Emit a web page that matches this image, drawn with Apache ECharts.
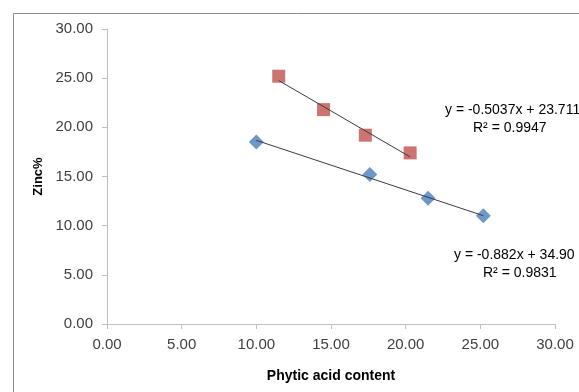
<!DOCTYPE html>
<html>
<head>
<meta charset="utf-8">
<script src="https://cdn.jsdelivr.net/npm/echarts@6/dist/echarts.min.js"></script>
<style>html,body{margin:0;padding:0;background:#fff}#c{width:579px;height:392px}</style>
</head>
<body>
<div id="c"></div>
<script>
// Data
var blueX = [10.0, 17.6, 21.5, 25.2];
var blueY = [18.5, 15.2, 12.8, 11.0];
var redX = [11.5, 14.5, 17.3, 20.3];
var redY = [25.2, 21.8, 19.2, 17.4];
// Trendline coefficients printed on the chart
var blueTrend = {slope: -0.5037, intercept: 23.711, r2: 0.9947};
var redTrend = {slope: -0.882, intercept: 34.90, r2: 0.9831};
var axisTicks = [0, 5, 10, 15, 20, 25, 30];

function pts(xs, ys) { return xs.map(function (x, i) { return [x, ys[i]]; }); }
function trend(xs, t) {
  var lo = Math.min.apply(null, xs), hi = Math.max.apply(null, xs);
  return [[lo, t.slope * lo + t.intercept], [hi, t.slope * hi + t.intercept]];
}

var font = '"Liberation Sans", Arial, sans-serif';
var chart = echarts.init(document.getElementById('c'));
chart.setOption({
  animation: false,
  grid: {left: 107, top: 29, right: 24, bottom: 68, containLabel: false},
  xAxis: {
    type: 'value', min: axisTicks[0], max: axisTicks[axisTicks.length - 1], interval: 5,
    name: 'Phytic acid content', nameLocation: 'middle', nameGap: 45,
    nameTextStyle: {fontFamily: font, fontWeight: 'bold', fontSize: 14, color: '#000'},
    axisLine: {lineStyle: {color: '#bfbfbf'}},
    axisTick: {show: true, inside: false, length: 5, lineStyle: {color: '#bfbfbf'}},
    axisLabel: {fontFamily: font, fontSize: 15, color: '#404040', margin: 13,
      formatter: function (v) { return v.toFixed(2); }},
    splitLine: {show: false}
  },
  yAxis: {
    type: 'value', min: axisTicks[0], max: axisTicks[axisTicks.length - 1], interval: 5,
    name: 'Zinc%', nameLocation: 'middle', nameGap: 57, nameRotate: 90,
    nameTextStyle: {fontFamily: font, fontWeight: 'bold', fontSize: 13, color: '#000'},
    axisLine: {show: true, lineStyle: {color: '#bfbfbf'}},
    axisTick: {show: true, inside: false, length: 5, lineStyle: {color: '#bfbfbf'}},
    axisLabel: {fontFamily: font, fontSize: 15, color: '#404040', margin: 14,
      formatter: function (v) { return v.toFixed(2); }},
    splitLine: {show: false}
  },
  series: [
    {type: 'scatter', data: pts(blueX, blueY), symbol: 'diamond', symbolSize: 15,
      itemStyle: {color: '#4A7EBB'}, z: 2},
    {type: 'scatter', data: pts(redX, redY), symbol: 'rect', symbolSize: 13,
      itemStyle: {color: '#C0504D'}, z: 2},
    {type: 'line', data: trend(blueX, blueTrend), symbol: 'none',
      lineStyle: {color: '#3a3a3a', width: 1}, z: 3},
    {type: 'line', data: trend(redX, redTrend), symbol: 'none',
      lineStyle: {color: '#3a3a3a', width: 1}, z: 3}
  ],
  graphic: [
    {type: 'rect', left: 11, top: 11, shape: {width: 620, height: 420},
      style: {fill: 'none', stroke: '#8c8c8c', lineWidth: 1}, silent: true, z: -1},
    {type: 'text', left: 445, top: 103, style: {text: 'y = ' + blueTrend.slope + 'x + ' + blueTrend.intercept,
      font: '14px ' + font, fill: '#000'}},
    {type: 'text', left: 473, top: 121, style: {text: 'R² = ' + blueTrend.r2,
      font: '14px ' + font, fill: '#000'}},
    {type: 'text', left: 454, top: 248, style: {text: 'y = ' + redTrend.slope + 'x + ' + redTrend.intercept.toFixed(2),
      font: '14px ' + font, fill: '#000'}},
    {type: 'text', left: 483, top: 266, style: {text: 'R² = ' + redTrend.r2,
      font: '14px ' + font, fill: '#000'}}
  ]
});
</script>
</body>
</html>
